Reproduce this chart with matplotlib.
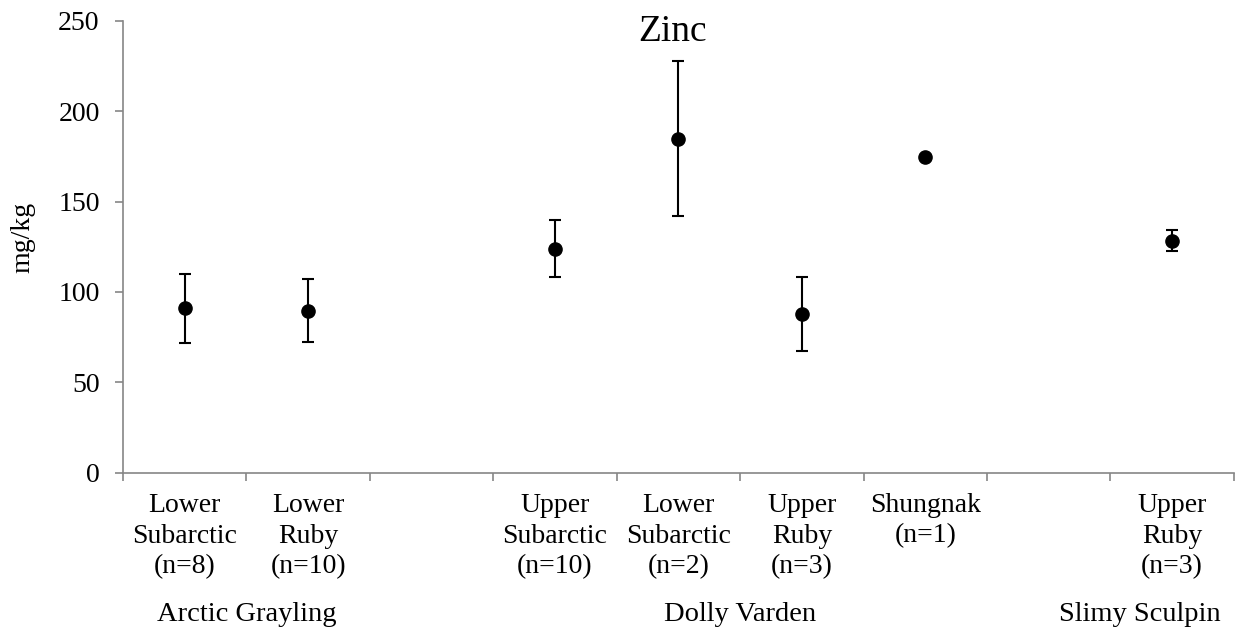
import numpy as np
import matplotlib
matplotlib.use("Agg")
import matplotlib.pyplot as plt

plt.rcParams["font.family"] = ["Liberation Serif", "DejaVu Serif"]

# =========================
# Data
# =========================
site_labels = [
    "Lower\nSubarctic\n(n=8)", "Lower\nRuby\n(n=10)", "",
    "Upper\nSubarctic\n(n=10)", "Lower\nSubarctic\n(n=2)", "Upper\nRuby\n(n=3)",
    "Shungnak\n(n=1)", "", "Upper\nRuby\n(n=3)",
]
zinc_mean = [90.9, 89.6, np.nan, 124.0, 184.8, 87.8, 174.5, np.nan, 128.3]
zinc_err = [19.2, 17.5, np.nan, 15.6, 43.0, 20.4, np.nan, np.nan, 5.8]

species = ["Arctic Grayling", "Dolly Varden", "Slimy Sculpin"]
species_pos = [0.5, 4.5, 7.74]

y_ticks = [0, 50, 100, 150, 200, 250]

# =========================
# Plot
# =========================
fig = plt.figure(figsize=(12.35, 6.33), dpi=100)
ax = fig.add_axes([0.0996, 0.2535, 0.8995, 0.7135])

x = np.arange(len(site_labels))
ax.errorbar(x, zinc_mean, yerr=zinc_err, fmt="o", color="black",
            markersize=9.5, elinewidth=1.5, capsize=4.3, capthick=1.5)

ax.set_xlim(-0.5, len(site_labels) - 0.5)
ax.set_ylim(0, 250)
ax.set_yticks(y_ticks)

# tick marks on category boundaries, labels drawn as text
ax.set_xticks(np.arange(len(site_labels) + 1) - 0.5)
ax.set_xticklabels([])

axis_gray = "#868686"
for side in ["top", "right"]:
    ax.spines[side].set_visible(False)
for side in ["left", "bottom"]:
    ax.spines[side].set_color(axis_gray)
    ax.spines[side].set_linewidth(1.2)
ax.tick_params(axis="both", color=axis_gray, width=1.2, length=5.8, labelsize=20)
ax.tick_params(axis="y", pad=11)

trans = ax.get_xaxis_transform()
for xi, lab in zip(x, site_labels):
    ax.text(xi, -0.045, lab, transform=trans, ha="center", va="top",
            fontsize=20, linespacing=1.3)

for sp, xp in zip(species, species_pos):
    ax.text(xp, -0.3287, sp, transform=trans, ha="center", va="baseline",
            fontsize=20.5)

fig.text(673 / 1235, 1 - 40.7 / 633, "Zinc", ha="center", va="baseline", fontsize=27)
fig.text(23 / 1235, 1 - 237 / 633, "mg/kg", ha="center", va="center",
         rotation=90, fontsize=20)

fig.savefig("out.png", dpi=100)
